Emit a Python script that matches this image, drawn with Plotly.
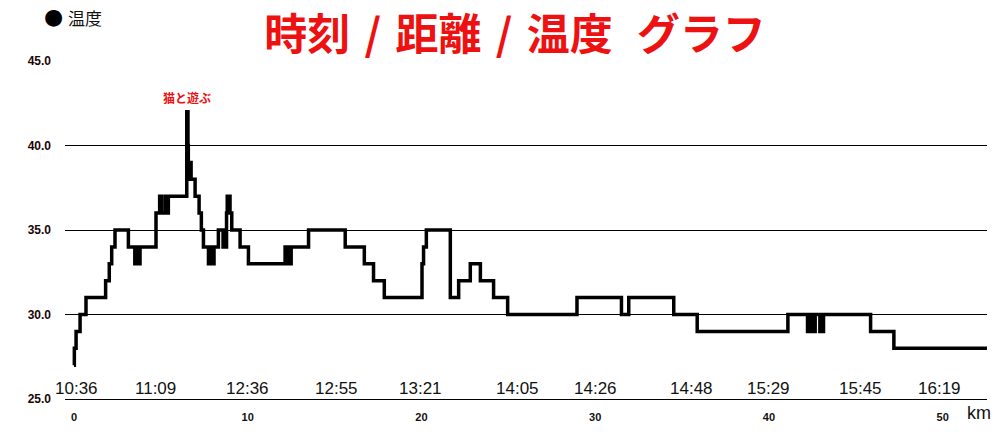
import plotly.graph_objects as go

# ---- data ----
# step change points: distance (km) where temperature changes, and new temperature
km = [0.00, 0.02, 0.12, 0.35, 0.69, 1.82, 2.03, 2.17, 2.36, 3.13,
      3.50, 3.58, 3.62, 3.70, 3.73, 3.80,
      4.72, 4.93, 4.96, 5.04, 5.07, 5.28, 5.31, 5.36, 5.39, 5.43,
      6.49, 6.56, 6.58, 6.62, 6.64, 6.68, 6.70, 6.74,
      6.97, 7.20, 7.33, 7.45,
      7.74, 7.80, 7.84, 7.92, 7.95, 8.06,
      8.31, 8.58, 8.78, 8.82, 8.88, 8.92, 8.98, 9.08,
      9.56, 10.04,
      12.15, 12.21, 12.27, 12.33, 12.40, 12.44, 12.50,
      13.50, 15.61, 16.71, 17.24, 17.86, 20.03, 20.12, 20.28,
      21.66, 22.14, 22.81, 23.39, 24.15, 24.96, 28.95, 31.51, 31.93,
      34.52, 35.87, 41.09,
      42.22, 42.28, 42.32, 42.40, 42.44, 42.52, 42.56, 42.66,
      42.93, 42.94, 43.13, 43.14,
      45.85, 47.19, 52.55]
temp = [27, 28, 29, 30, 31, 32, 33, 34, 35, 34,
        33, 34, 33, 34, 33, 34,
        36, 37, 36, 37, 36, 37, 36, 37, 36, 37,
        42, 40, 39, 38, 39, 38, 39, 38,
        37, 36, 35, 34,
        33, 34, 33, 34, 33, 34,
        35, 34, 36, 37, 36, 37, 36, 35,
        34, 33,
        34, 33, 34, 33, 34, 33, 34,
        35, 34, 33, 32, 31, 33, 34, 35,
        31, 32, 33, 32, 31, 30, 31, 30, 31,
        30, 29, 30,
        29, 30, 29, 30, 29, 30, 29, 30,
        29, 30, 29, 30,
        29, 28, 28]

km_ticks = [0, 10, 20, 30, 40, 50]
temp_ticks = [25, 30, 35, 40, 45]
time_labels = ["10:36", "11:09", "12:36", "12:55", "13:21", "14:05",
               "14:26", "14:48", "15:29", "15:45", "16:19"]
time_km = [0.17, 4.67, 10.0, 15.13, 19.95, 25.55, 30.01, 35.53, 39.97, 45.28, 49.81]
event_label = "猫と遊ぶ"
event_km = 6.52
event_temp = 42

fig = go.Figure()
fig.add_trace(go.Scatter(
    x=km, y=temp, mode="lines", line=dict(color="black", width=3.5, shape="hv"),
    showlegend=False, hoverinfo="skip"))

annotations = []
for t, k in zip(time_labels, time_km):
    annotations.append(dict(x=k, y=25.65, xref="x", yref="y", text=t, showarrow=False,
                            font=dict(family="Liberation Sans", size=17, color="#111"),
                            xanchor="center", yanchor="middle"))
annotations.append(dict(x=event_km, y=event_temp, xref="x", yref="y", text="<b>%s</b>" % event_label,
                        showarrow=False, yanchor="bottom", yshift=4,
                        font=dict(family="Noto Sans CJK JP", size=12, color="#ee1111")))
annotations.append(dict(x=(53.5 - 65) / 922, y=(399 - 16) / 338, xref="paper", yref="paper",
                        text="●", showarrow=False, xanchor="center", yanchor="middle",
                        font=dict(family="DejaVu Sans", size=22, color="black")))
annotations.append(dict(x=(66 - 65) / 922, y=(399 - 17) / 338, xref="paper", yref="paper",
                        text="温度", showarrow=False, xanchor="left", yanchor="middle",
                        font=dict(family="Noto Sans CJK JP", size=17, color="#111")))
annotations.append(dict(x=(979 - 65) / 922, y=(399 - 413) / 338, xref="paper", yref="paper",
                        text="km", showarrow=False, xanchor="center", yanchor="middle",
                        font=dict(family="Liberation Sans", size=18, color="#111")))

S = "\u2004"
title_text = "時刻" + S + "/" + S + "距離" + S + "/" + S + "温度" + S + " グラフ"

fig.update_layout(
    width=1008, height=434,
    margin=dict(l=65, r=21, t=61, b=35),
    paper_bgcolor="white", plot_bgcolor="white",
    title=dict(text="<b>%s</b>" % title_text, x=515 / 1008, xanchor="center",
               y=1 - 35 / 434, yanchor="middle",
               font=dict(family="Noto Sans CJK JP", size=43, color="#ee1111")),
    annotations=annotations,
    xaxis=dict(range=[-0.518, 52.55], tickvals=km_ticks, ticktext=[str(v) for v in km_ticks],
               showgrid=False, zeroline=False, showline=True, linecolor="black", linewidth=1,
               ticks="", ticklabelstandoff=8,
               tickfont=dict(family="Liberation Sans", size=11, color="#111")),
    yaxis=dict(range=[25, 45], tickvals=temp_ticks, ticktext=["%.1f" % v for v in temp_ticks],
               showgrid=True, gridcolor="black", gridwidth=1, zeroline=False, showline=False,
               ticks="", ticklabelstandoff=13,
               tickfont=dict(family="Liberation Sans", size=12, color="#1a0505")),
)
fig.update_xaxes(tickfont_weight="bold")
fig.update_yaxes(tickfont_weight="bold")

fig.write_html("out.html", post_script="document.body.style.margin='0';",
               config={"displayModeBar": False})
